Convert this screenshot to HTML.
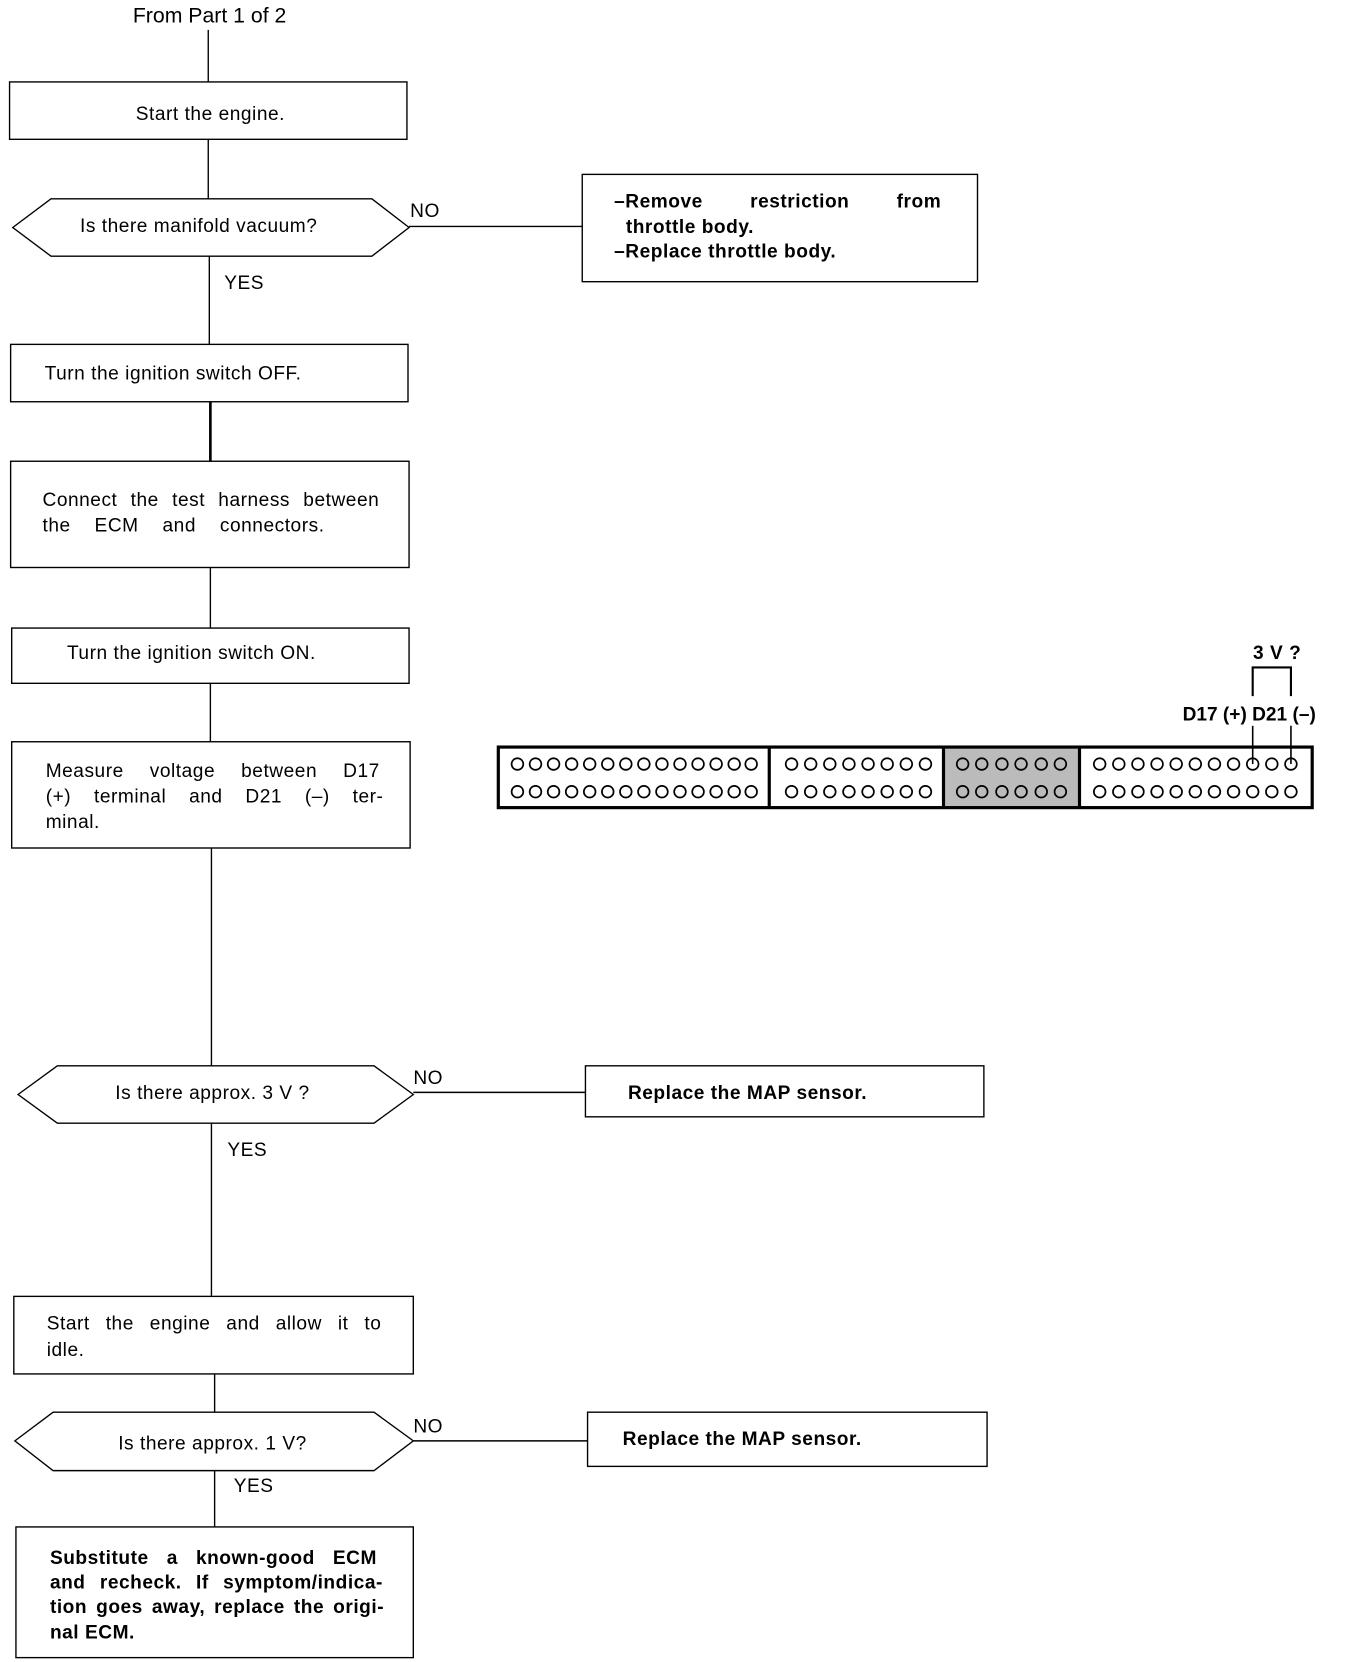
<!DOCTYPE html>
<html><head><meta charset="utf-8"><style>
html,body{margin:0;padding:0;background:#fff;}
svg{display:block;}
text{font-family:"Liberation Sans",sans-serif;font-size:18px;letter-spacing:0.5px;fill:#000;}
.b{font-weight:bold;}
</style></head><body>
<svg width="1360" height="1662" viewBox="0 0 1280 1564" xmlns="http://www.w3.org/2000/svg">
<g stroke="#000" stroke-width="1.3" fill="none">
<line x1="196" y1="28" x2="196" y2="77"/>
<rect x="9" y="77" width="374" height="54"/>
<line x1="196" y1="131" x2="196" y2="187"/>
<polygon points="12,214 48,187 350,187 385,214 350,241 48,241"/>
<line x1="385" y1="213" x2="548" y2="213"/>
<rect x="548" y="164" width="372" height="101"/>
<line x1="197" y1="241" x2="197" y2="324"/>
<rect x="10" y="324" width="374" height="54"/>
<line x1="198" y1="378" x2="198" y2="434" stroke-width="2.5"/>
<rect x="10" y="434" width="375" height="100"/>
<line x1="198" y1="534" x2="198" y2="591"/>
<rect x="11" y="591" width="374" height="52"/>
<line x1="198" y1="643" x2="198" y2="698"/>
<rect x="11" y="698" width="375" height="100"/>
<line x1="199" y1="798" x2="199" y2="1003"/>
<polygon points="17,1030 54,1003 352,1003 389,1030 352,1057 54,1057"/>
<line x1="389" y1="1028" x2="551" y2="1028"/>
<rect x="551" y="1003" width="375" height="48"/>
<line x1="199" y1="1057" x2="199" y2="1220"/>
<rect x="13" y="1220" width="376" height="73"/>
<line x1="202" y1="1293" x2="202" y2="1329"/>
<polygon points="14,1356 50,1329 352,1329 389,1356 352,1384 50,1384"/>
<line x1="389" y1="1356" x2="553" y2="1356"/>
<rect x="553" y="1329" width="376" height="51"/>
<line x1="202" y1="1384" x2="202" y2="1437"/>
<rect x="15" y="1437" width="374" height="123"/>
<rect x="888" y="703" width="128" height="57" fill="#bbb" stroke="none"/>
<rect x="469" y="703" width="766" height="57" stroke-width="3"/>
<line x1="724" y1="703" x2="724" y2="760" stroke-width="3"/>
<line x1="888" y1="703" x2="888" y2="760" stroke-width="3"/>
<line x1="1016" y1="703" x2="1016" y2="760" stroke-width="3"/>
<polyline points="1179,655 1179,628 1215,628 1215,655" stroke-width="2"/>
<line x1="1179" y1="683" x2="1179" y2="719" stroke-width="1.5"/>
<line x1="1215" y1="683" x2="1215" y2="719" stroke-width="1.5"/>
</g>
<g stroke="#000" stroke-width="1.6" fill="none">
<circle cx="487" cy="719" r="5.5"/><circle cx="504" cy="719" r="5.5"/><circle cx="521" cy="719" r="5.5"/><circle cx="538" cy="719" r="5.5"/><circle cx="555" cy="719" r="5.5"/><circle cx="572" cy="719" r="5.5"/><circle cx="589" cy="719" r="5.5"/><circle cx="606" cy="719" r="5.5"/><circle cx="623" cy="719" r="5.5"/><circle cx="640" cy="719" r="5.5"/><circle cx="657" cy="719" r="5.5"/><circle cx="674" cy="719" r="5.5"/><circle cx="691" cy="719" r="5.5"/><circle cx="707" cy="719" r="5.5"/>
<circle cx="487" cy="745" r="5.5"/><circle cx="504" cy="745" r="5.5"/><circle cx="521" cy="745" r="5.5"/><circle cx="538" cy="745" r="5.5"/><circle cx="555" cy="745" r="5.5"/><circle cx="572" cy="745" r="5.5"/><circle cx="589" cy="745" r="5.5"/><circle cx="606" cy="745" r="5.5"/><circle cx="623" cy="745" r="5.5"/><circle cx="640" cy="745" r="5.5"/><circle cx="657" cy="745" r="5.5"/><circle cx="674" cy="745" r="5.5"/><circle cx="691" cy="745" r="5.5"/><circle cx="707" cy="745" r="5.5"/>
<circle cx="745" cy="719" r="5.5"/><circle cx="763" cy="719" r="5.5"/><circle cx="781" cy="719" r="5.5"/><circle cx="799" cy="719" r="5.5"/><circle cx="817" cy="719" r="5.5"/><circle cx="835" cy="719" r="5.5"/><circle cx="853" cy="719" r="5.5"/><circle cx="871" cy="719" r="5.5"/>
<circle cx="745" cy="745" r="5.5"/><circle cx="763" cy="745" r="5.5"/><circle cx="781" cy="745" r="5.5"/><circle cx="799" cy="745" r="5.5"/><circle cx="817" cy="745" r="5.5"/><circle cx="835" cy="745" r="5.5"/><circle cx="853" cy="745" r="5.5"/><circle cx="871" cy="745" r="5.5"/>
<circle cx="906" cy="719" r="5.5"/><circle cx="924" cy="719" r="5.5"/><circle cx="943" cy="719" r="5.5"/><circle cx="961" cy="719" r="5.5"/><circle cx="980" cy="719" r="5.5"/><circle cx="998" cy="719" r="5.5"/>
<circle cx="906" cy="745" r="5.5"/><circle cx="924" cy="745" r="5.5"/><circle cx="943" cy="745" r="5.5"/><circle cx="961" cy="745" r="5.5"/><circle cx="980" cy="745" r="5.5"/><circle cx="998" cy="745" r="5.5"/>
<circle cx="1035" cy="719" r="5.5"/><circle cx="1053" cy="719" r="5.5"/><circle cx="1071" cy="719" r="5.5"/><circle cx="1089" cy="719" r="5.5"/><circle cx="1107" cy="719" r="5.5"/><circle cx="1125" cy="719" r="5.5"/><circle cx="1143" cy="719" r="5.5"/><circle cx="1161" cy="719" r="5.5"/><circle cx="1179" cy="719" r="5.5"/><circle cx="1197" cy="719" r="5.5"/><circle cx="1215" cy="719" r="5.5"/>
<circle cx="1035" cy="745" r="5.5"/><circle cx="1053" cy="745" r="5.5"/><circle cx="1071" cy="745" r="5.5"/><circle cx="1089" cy="745" r="5.5"/><circle cx="1107" cy="745" r="5.5"/><circle cx="1125" cy="745" r="5.5"/><circle cx="1143" cy="745" r="5.5"/><circle cx="1161" cy="745" r="5.5"/><circle cx="1179" cy="745" r="5.5"/><circle cx="1197" cy="745" r="5.5"/><circle cx="1215" cy="745" r="5.5"/>
</g>
<text x="125" y="21" style="font-size:20px;letter-spacing:0">From Part 1 of 2</text>
<text x="198" y="113" text-anchor="middle">Start the engine.</text>
<text x="187" y="218" text-anchor="middle">Is there manifold vacuum?</text>
<text x="386" y="204">NO</text>
<text x="211" y="272">YES</text>
<text class="b" x="578" y="195" style="word-spacing:39px">–Remove restriction from</text>
<text class="b" x="589" y="219">throttle body.</text>
<text class="b" x="578" y="242">–Replace throttle body.</text>
<text x="42" y="357">Turn the ignition switch OFF.</text>
<text x="40" y="476" style="word-spacing:7px">Connect the test harness between</text>
<text x="40" y="500" style="word-spacing:17px">the ECM and connectors.</text>
<text x="63" y="620">Turn the ignition switch ON.</text>
<text x="43" y="731" style="word-spacing:19px">Measure voltage between D17</text>
<text x="43" y="755" style="word-spacing:16px">(+) terminal and D21 (–) ter-</text>
<text x="43" y="779">minal.</text>
<text x="200" y="1034" text-anchor="middle">Is there approx. 3 V ?</text>
<text x="389" y="1020">NO</text>
<text x="214" y="1088">YES</text>
<text class="b" x="591" y="1034">Replace the MAP sensor.</text>
<text x="44" y="1251" style="word-spacing:9.5px">Start the engine and allow it to</text>
<text x="44" y="1276">idle.</text>
<text x="200" y="1364" text-anchor="middle">Is there approx. 1 V?</text>
<text x="389" y="1348">NO</text>
<text x="220" y="1404">YES</text>
<text class="b" x="586" y="1360">Replace the MAP sensor.</text>
<text class="b" x="47" y="1472" style="word-spacing:11.5px">Substitute a known-good ECM</text>
<text class="b" x="47" y="1495" style="word-spacing:8px">and recheck. If symptom/indica-</text>
<text class="b" x="47" y="1518" style="word-spacing:3px">tion goes away, replace the origi-</text>
<text class="b" x="47" y="1542">nal ECM.</text>
<text class="b" x="1202" y="620" text-anchor="middle">3 V ?</text>
<text class="b" x="1113" y="678" style="letter-spacing:0">D17 (+) D21 (–)</text>
</svg>
</body></html>
